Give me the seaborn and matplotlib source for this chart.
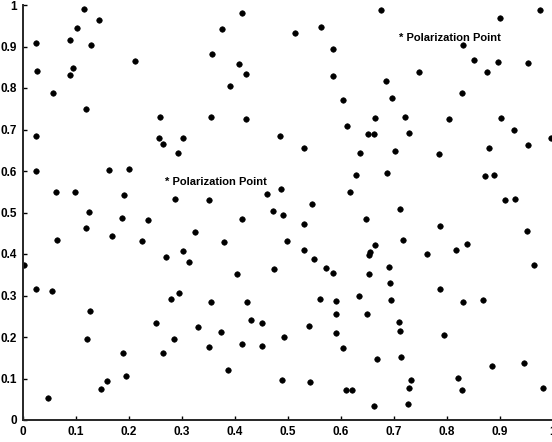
import matplotlib
matplotlib.use("Agg")
import matplotlib.pyplot as plt
import seaborn as sns
import pandas as pd

# Sampled points in the unit square
x_vals = [
    0.116, 0.145, 0.103, 0.025, 0.089, 0.129, 0.027, 0.095, 0.090, 0.212,
    0.058, 0.120, 0.025, 0.259, 0.258, 0.266, 0.303, 0.293, 0.025, 0.163,
    0.200, 0.063, 0.099, 0.191, 0.287, 0.125, 0.188, 0.237,
    0.414, 0.376, 0.514, 0.564, 0.358, 0.586, 0.408, 0.421, 0.586, 0.391,
    0.605, 0.356, 0.421, 0.612, 0.486, 0.532, 0.637, 0.629, 0.617, 0.487,
    0.461, 0.351, 0.546, 0.473, 0.492, 0.415, 0.649,
    0.676, 0.977, 0.900, 0.831, 0.852, 0.897, 0.953, 0.876, 0.749, 0.685,
    0.697, 0.829, 0.665, 0.722, 0.805, 0.903, 0.927, 0.997, 0.652, 0.663,
    0.729, 0.954, 0.880, 0.702, 0.786, 0.688, 0.873, 0.890, 0.910, 0.929,
    0.713,
    0.120, 0.169, 0.066, 0.226, 0.003, 0.271, 0.302, 0.315, 0.025, 0.055,
    0.296, 0.280, 0.127, 0.252, 0.122, 0.286, 0.189, 0.265, 0.195, 0.159,
    0.148, 0.048,
    0.531, 0.325, 0.381, 0.499, 0.532, 0.550, 0.573, 0.586, 0.653, 0.405,
    0.474, 0.356, 0.423, 0.562, 0.591, 0.635, 0.591, 0.650, 0.431, 0.451,
    0.331, 0.374, 0.541, 0.591, 0.493, 0.351, 0.415, 0.451, 0.605, 0.387,
    0.489, 0.543, 0.610, 0.622,
    0.787, 0.951, 0.666, 0.718, 0.838, 0.818, 0.763, 0.655, 0.653, 0.965,
    0.692, 0.693, 0.787, 0.695, 0.832, 0.868, 0.711, 0.712, 0.795, 0.668,
    0.714, 0.885, 0.946, 0.733, 0.822, 0.729, 0.830, 0.982, 0.664, 0.728,
]
y_vals = [
    0.990, 0.964, 0.945, 0.908, 0.915, 0.904, 0.842, 0.847, 0.831, 0.866,
    0.788, 0.750, 0.684, 0.731, 0.679, 0.665, 0.679, 0.643, 0.601, 0.602,
    0.604, 0.549, 0.550, 0.543, 0.533, 0.502, 0.487, 0.482,
    0.981, 0.941, 0.932, 0.947, 0.883, 0.895, 0.858, 0.834, 0.828, 0.804,
    0.772, 0.730, 0.725, 0.708, 0.684, 0.656, 0.644, 0.591, 0.549, 0.556,
    0.545, 0.530, 0.520, 0.504, 0.495, 0.484, 0.484,
    0.989, 0.987, 0.968, 0.904, 0.867, 0.862, 0.861, 0.839, 0.839, 0.818,
    0.777, 0.788, 0.727, 0.729, 0.725, 0.727, 0.699, 0.680, 0.688, 0.688,
    0.692, 0.662, 0.656, 0.647, 0.641, 0.594, 0.588, 0.590, 0.530, 0.532,
    0.509,
    0.463, 0.443, 0.433, 0.431, 0.373, 0.393, 0.407, 0.380, 0.316, 0.312,
    0.307, 0.292, 0.263, 0.234, 0.195, 0.196, 0.162, 0.162, 0.105, 0.093,
    0.075, 0.053,
    0.473, 0.454, 0.430, 0.431, 0.410, 0.389, 0.366, 0.355, 0.353, 0.352,
    0.365, 0.284, 0.284, 0.292, 0.286, 0.300, 0.255, 0.255, 0.242, 0.234,
    0.224, 0.213, 0.226, 0.210, 0.199, 0.177, 0.184, 0.178, 0.173, 0.120,
    0.097, 0.092, 0.072, 0.072,
    0.467, 0.456, 0.422, 0.433, 0.423, 0.410, 0.401, 0.405, 0.397, 0.373,
    0.368, 0.329, 0.315, 0.288, 0.285, 0.288, 0.235, 0.214, 0.206, 0.147,
    0.153, 0.129, 0.138, 0.097, 0.102, 0.076, 0.072, 0.077, 0.033, 0.039,
]

tick_vals = [0, 0.1, 0.2, 0.3, 0.4, 0.5, 0.6, 0.7, 0.8, 0.9, 1]
tick_labels = ["0", "0.1", "0.2", "0.3", "0.4", "0.5", "0.6", "0.7", "0.8", "0.9", "1"]

annotation_text = "* Polarization Point"
annotation_x = [0.268, 0.710]
annotation_y = [0.574, 0.920]

sns.set_style("ticks")
plt.rcParams["font.family"] = ["Liberation Sans", "DejaVu Sans"]

df = pd.DataFrame({"x": x_vals, "y": y_vals})

W, H = 552, 442
fig = plt.figure(figsize=(W / 100, H / 100), dpi=100)
fig.patch.set_facecolor("white")
ax = fig.add_axes([22.5 / W, 22 / H, 530 / W, 415 / H])

sns.scatterplot(data=df, x="x", y="y", ax=ax, color="black",
                s=16, edgecolor="black", linewidth=0.4, marker="o", legend=False)

for tx, ty in zip(annotation_x, annotation_y):
    ax.text(tx, ty, annotation_text, fontsize=8, fontweight="bold",
            color="black", ha="left", va="center")

ax.set_xlim(0, 1)
ax.set_ylim(0, 1)
ax.set_xticks(tick_vals)
ax.set_xticklabels(tick_labels)
ax.set_yticks(tick_vals)
ax.set_yticklabels(tick_labels)
ax.set_xlabel("")
ax.set_ylabel("")
ax.tick_params(direction="in", length=3, width=1, labelsize=8.5,
               colors="black", pad=4)
for lbl in ax.get_xticklabels() + ax.get_yticklabels():
    lbl.set_fontweight("bold")
sns.despine(ax=ax, top=True, right=True)
ax.spines["left"].set_linewidth(1.4)
ax.spines["bottom"].set_linewidth(1.4)
ax.set_facecolor("white")

fig.savefig("out.png", dpi=100, facecolor="white")
